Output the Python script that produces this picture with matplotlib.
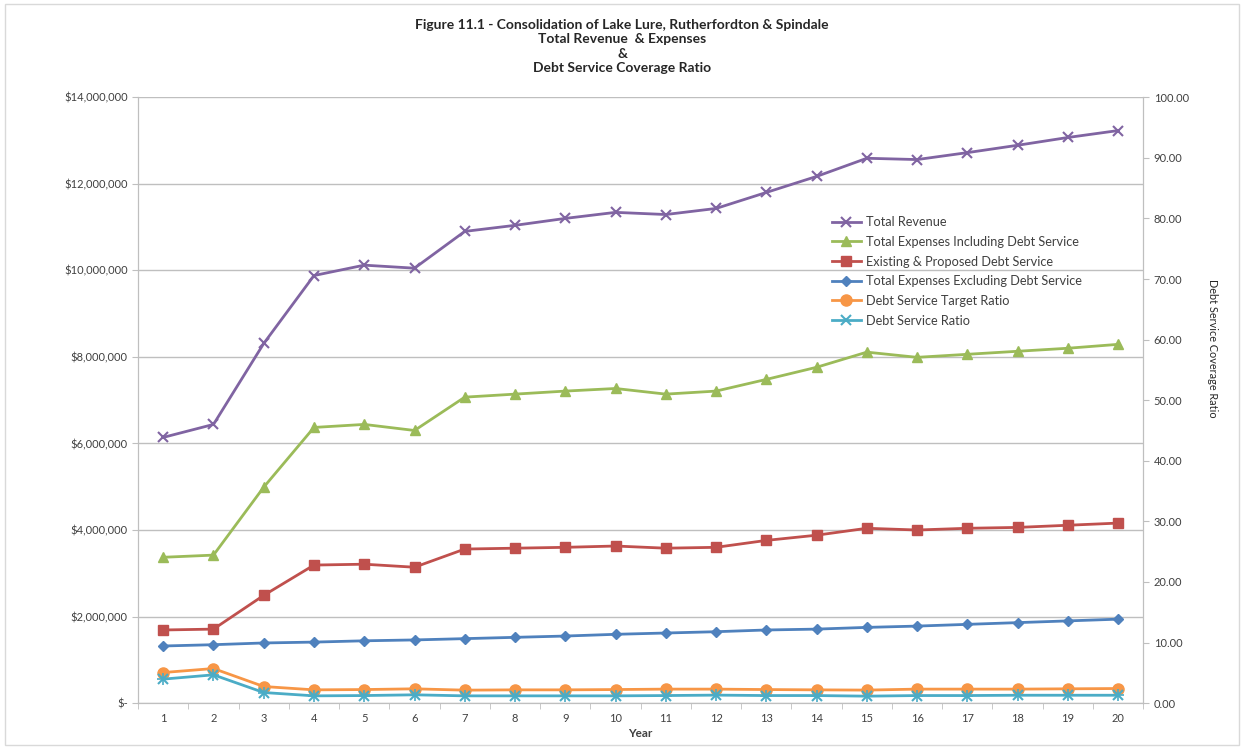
import matplotlib
matplotlib.use("Agg")
import matplotlib.pyplot as plt
from matplotlib.ticker import FuncFormatter, MultipleLocator, FixedLocator

plt.rcParams['font.family'] = ['Lato', 'DejaVu Sans']

years = list(range(1, 21))
total_revenue = [6.14, 6.44, 8.31, 9.88, 10.12, 10.05, 10.90, 11.04, 11.20, 11.34,
                 11.29, 11.43, 11.80, 12.17, 12.59, 12.56, 12.72, 12.89, 13.07, 13.23]
total_exp_incl = [3.37, 3.42, 4.99, 6.37, 6.44, 6.30, 7.07, 7.14, 7.21, 7.27,
                  7.14, 7.21, 7.48, 7.76, 8.11, 7.99, 8.06, 8.13, 8.20, 8.29]
debt_service = [1.69, 1.71, 2.49, 3.19, 3.21, 3.14, 3.56, 3.58, 3.60, 3.63,
                3.58, 3.60, 3.76, 3.88, 4.04, 4.00, 4.04, 4.06, 4.11, 4.16]
total_exp_excl = [1.32, 1.35, 1.39, 1.41, 1.44, 1.46, 1.49, 1.52, 1.55, 1.59,
                  1.62, 1.65, 1.69, 1.71, 1.75, 1.78, 1.82, 1.86, 1.90, 1.94]
target_ratio = [5.05, 5.71, 2.74, 2.19, 2.24, 2.36, 2.14, 2.19, 2.19, 2.24,
                2.31, 2.31, 2.24, 2.19, 2.15, 2.31, 2.31, 2.31, 2.36, 2.41]
coverage_ratio = [3.96, 4.67, 1.75, 1.20, 1.25, 1.37, 1.20, 1.20, 1.20, 1.20,
                  1.25, 1.32, 1.25, 1.25, 1.15, 1.25, 1.25, 1.30, 1.30, 1.30]

million = 1_000_000

fig = plt.figure(figsize=(12.44, 7.48), dpi=100)
ax = fig.add_axes([0.111, 0.060, 0.808, 0.810])
ax2 = ax.twinx()

gray = '#BFBFBF'
txt = '#404040'

ax.set_ylim(0, 14 * million)
ax.set_xlim(0.5, 20.5)
ax.yaxis.set_major_locator(MultipleLocator(2 * million))
ax.yaxis.set_major_formatter(FuncFormatter(lambda v, p: '$-' if v == 0 else f'${v:,.0f}'))
ax.grid(axis='y', color=gray, linewidth=1)
ax.set_axisbelow(True)

ax.xaxis.set_major_locator(FixedLocator(years))
ax.xaxis.set_minor_locator(FixedLocator([y + 0.5 for y in range(0, 21)]))
ax.tick_params(axis='x', which='major', length=0, labelsize=8, colors=txt, pad=7)
ax.tick_params(axis='x', which='minor', length=4, color=gray, direction='out')
ax.tick_params(axis='y', length=4, color=gray, labelsize=8, labelcolor=txt)
ax.set_xlabel('Year', fontsize=8.5, fontweight='bold', color=txt, labelpad=3)

ax2.set_ylim(0, 100)
ax2.yaxis.set_major_locator(MultipleLocator(10))
ax2.yaxis.set_major_formatter(FuncFormatter(lambda v, p: f'{v:.2f}'))
ax2.tick_params(axis='y', length=4, color=gray, labelsize=8, labelcolor=txt)
ax2.set_ylabel('Debt Service Coverage Ratio', rotation=-90, fontsize=7.8, color='#262626',
               va='center', ha='center')
ax2.yaxis.set_label_coords(1.069, 0.586)

for a in (ax, ax2):
    a.spines['top'].set_visible(False)
    for s in ('left', 'right', 'bottom'):
        a.spines[s].set_color(gray)

lw = 2
h1, = ax.plot(years, [v * million for v in total_revenue], color='#8064A2', marker='x',
              markersize=7, markeredgewidth=1.5, linewidth=lw, label='Total Revenue')
h2, = ax.plot(years, [v * million for v in total_exp_incl], color='#9BBB59', marker='^',
              markersize=7, linewidth=lw, label='Total Expenses Including Debt Service')
h3, = ax.plot(years, [v * million for v in debt_service], color='#C0504D', marker='s',
              markersize=7, linewidth=lw, label='Existing & Proposed Debt Service')
h4, = ax.plot(years, [v * million for v in total_exp_excl], color='#4F81BD', marker='D',
              markersize=5.5, linewidth=lw, label='Total Expenses Excluding Debt Service')
h5, = ax2.plot(years, target_ratio, color='#F79646', marker='o',
               markersize=8, linewidth=lw, label='Debt Service Target Ratio')
h6, = ax2.plot(years, coverage_ratio, color='#4BACC6', marker='x',
               markersize=7, markeredgewidth=1.5, linewidth=lw, label='Debt Service Ratio')
ax2.plot(years, coverage_ratio, color='#4BACC6', marker='+', linestyle='none',
         markersize=8, markeredgewidth=1.2)

leg = ax2.legend(handles=[h1, h2, h3, h4, h5, h6], loc='upper left',
                 bbox_to_anchor=(0.685, 0.812), frameon=False, fontsize=9.2,
                 handlelength=2.3, labelspacing=0.6, borderaxespad=0, handletextpad=0.4)
for t in leg.get_texts():
    t.set_color(txt)

title_kw = dict(ha='center', va='center', fontsize=10, fontweight='bold', color='#262626')
fig.text(0.5, 0.967, 'Figure 11.1 - Consolidation of Lake Lure, Rutherfordton & Spindale', **title_kw)
fig.text(0.5, 0.948, 'Total Revenue  & Expenses', **title_kw)
fig.text(0.5, 0.928, '&', **title_kw)
fig.text(0.5, 0.909, 'Debt Service Coverage Ratio', **title_kw)

border = plt.Rectangle((0.004, 0.004), 0.992, 0.99, transform=fig.transFigure,
                       fill=False, edgecolor='#D9D9D9', linewidth=1)
fig.patches.append(border)

fig.savefig('out.png', dpi=100)
